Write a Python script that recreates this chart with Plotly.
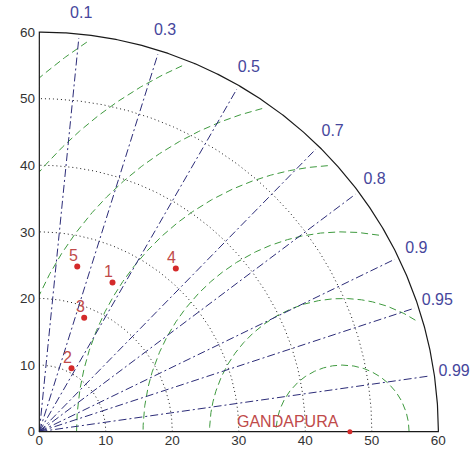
import numpy as np
import plotly.graph_objects as go

# ---------------- data ----------------
MODEL_LABELS = ["1", "2", "3", "4", "5"]
MODEL_STD = [24.95, 10.68, 18.38, 31.97, 25.45]      # standard deviation
MODEL_CORR = [0.441, 0.453, 0.367, 0.642, 0.224]     # correlation with reference

REF_LABEL = "GANDAPURA"
REF_STD = 46.7            # reference point standard deviation
RMS_CENTER_STD = 45.6     # centre used by the centred-RMS contours

STD_TICKS = [0, 10, 20, 30, 40, 50, 60]
STD_CIRCLES = [10, 20, 30, 40, 50]
STD_MAX = 60
RMS_LEVELS = [10, 20, 30, 40, 50, 60, 70]
CORR_LINES = [0.1, 0.3, 0.5, 0.7, 0.8, 0.9, 0.95, 0.99]
CORR_LABELS = ["0.1", "0.3", "0.5", "0.7", "0.8", "0.9", "0.95", "0.99"]

# ---------------- styles ----------------
BLACK = "#1a1a1a"
GREEN = "#3f9a3f"
NAVY = "#2c2c78"
LABEL_BLUE = "#46469c"
RED = "#d42a2a"
LABEL_RED = "#c04a4a"
TICK_COLOR = "#333333"

fig = go.Figure()

# std circles (dotted black)
xs, ys = [], []
th = np.linspace(0, np.pi / 2, 300)
for r in STD_CIRCLES:
    xs += list(r * np.cos(th)) + [None]
    ys += list(r * np.sin(th)) + [None]
fig.add_trace(go.Scatter(x=xs, y=ys, mode="lines", hoverinfo="skip",
                         line=dict(color=BLACK, width=1, dash="1px,3px")))

# centred RMS contours (green dashed)
xs, ys = [], []
t = np.linspace(0, np.pi, 1500)
clip_r = STD_MAX * 0.983
for r in RMS_LEVELS:
    ax_ = RMS_CENTER_STD + r * np.cos(t)
    ay_ = r * np.sin(t)
    ok = (ax_ >= 0) & (ay_ >= 0) & (ax_ ** 2 + ay_ ** 2 <= clip_r ** 2)
    if ok.any():
        xs += list(ax_[ok]) + [None]
        ys += list(ay_[ok]) + [None]
fig.add_trace(go.Scatter(x=xs, y=ys, mode="lines", hoverinfo="skip",
                         line=dict(color=GREEN, width=1, dash="7px,4px")))

# correlation rays (navy dash-dot)
xs, ys = [], []
ray_r = STD_MAX * 0.99
for c in CORR_LINES:
    a = np.arccos(c)
    xs += [0, ray_r * np.cos(a), None]
    ys += [0, ray_r * np.sin(a), None]
fig.add_trace(go.Scatter(x=xs, y=ys, mode="lines", hoverinfo="skip",
                         line=dict(color=NAVY, width=1, dash="8px,3px,2px,3px")))

# frame: x axis, outer arc, y axis
th = np.linspace(0, np.pi / 2, 400)
fx = [0] + list(STD_MAX * np.cos(th)) + [0]
fy = [0] + list(STD_MAX * np.sin(th)) + [0]
fig.add_trace(go.Scatter(x=fx, y=fy, mode="lines", hoverinfo="skip",
                         line=dict(color=BLACK, width=1.2)))

# correlation labels
lab_r = STD_MAX * 1.05
fig.add_trace(go.Scatter(
    x=[lab_r * c for c in CORR_LINES],
    y=[lab_r * np.sin(np.arccos(c)) for c in CORR_LINES],
    mode="text", text=CORR_LABELS, textposition="middle center",
    textfont=dict(family="Liberation Sans, Arial", size=16, color=LABEL_BLUE),
    cliponaxis=False, hoverinfo="skip"))

# model points
mx = [s * c for s, c in zip(MODEL_STD, MODEL_CORR)]
my = [s * np.sin(np.arccos(c)) for s, c in zip(MODEL_STD, MODEL_CORR)]
fig.add_trace(go.Scatter(x=mx, y=my, mode="markers", hoverinfo="skip",
                         marker=dict(color=RED, size=6)))
for x, y, lab in zip(mx, my, MODEL_LABELS):
    fig.add_annotation(x=x, y=y, text=lab, showarrow=False,
                       xshift=-4, yshift=11,
                       font=dict(family="Liberation Sans, Arial", size=16, color=LABEL_RED))

# reference point
fig.add_trace(go.Scatter(x=[REF_STD], y=[0], mode="markers", hoverinfo="skip",
                         cliponaxis=False, marker=dict(color=RED, size=5)))
fig.add_annotation(x=REF_STD, y=0, text=REF_LABEL, showarrow=False,
                   xanchor="right", yanchor="middle", xshift=-9, yshift=10,
                   font=dict(family="Liberation Sans, Arial", size=16, color=LABEL_RED))

axis_common = dict(showgrid=False, zeroline=False, showline=False, ticks="",
                   tickvals=STD_TICKS, ticktext=[str(v) for v in STD_TICKS],
                   tickfont=dict(family="Liberation Sans, Arial", size=13.5, color=TICK_COLOR),
                   fixedrange=True, automargin=False)
fig.update_layout(
    width=476, height=450, autosize=False,
    margin=dict(l=36, r=4, t=0, b=15),
    paper_bgcolor="white", plot_bgcolor="white",
    showlegend=False,
    xaxis=dict(range=[-0.5, 65.06], ticklabelstandoff=-5, **axis_common),
    yaxis=dict(range=[-0.5, 64.81], **axis_common),
)

fig.write_html("out.html")
